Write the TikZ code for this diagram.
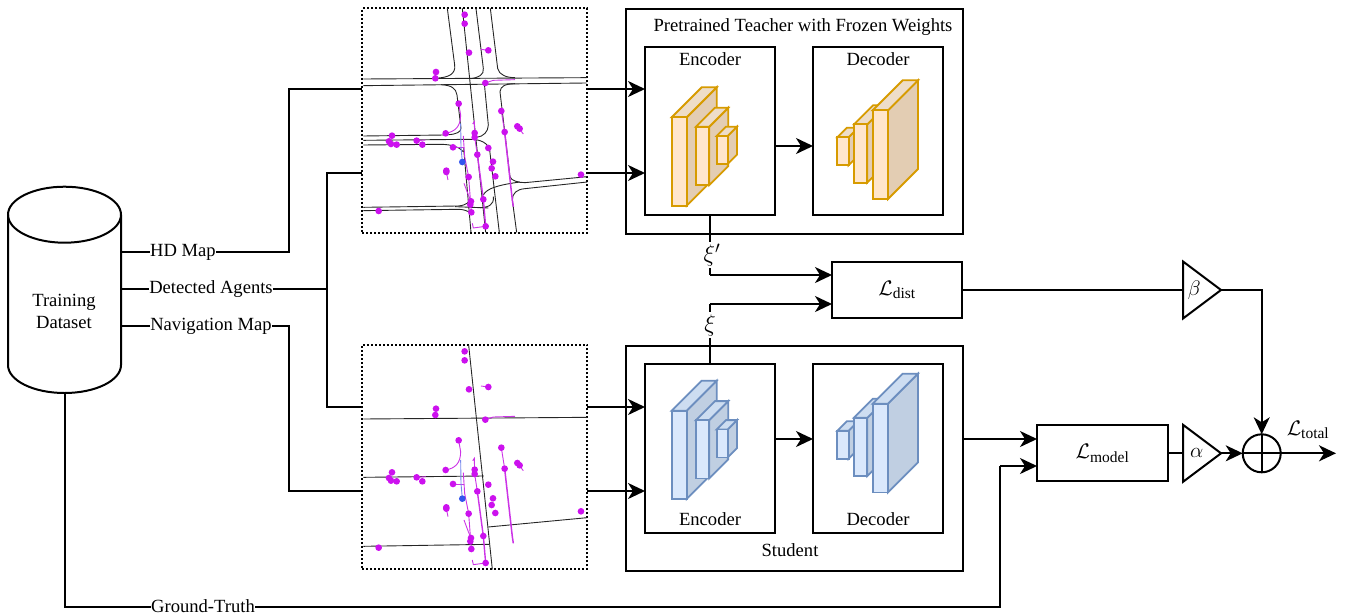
\RequirePackage{fix-cm}
\documentclass[tikz,border=0pt]{standalone}
\usepackage{fontspec}
\setmainfont{Liberation Serif}
\usetikzlibrary{arrows.meta,shapes.geometric,calc}
\DeclareMathSizes{18.6}{18.6}{13.5}{10}
\DeclareMathSizes{21}{21}{15.5}{11}
\DeclareMathSizes{24}{24}{17}{12}
\definecolor{agentc}{HTML}{CC11EE}
\definecolor{trailc}{HTML}{CC33E6}
\definecolor{egoc}{HTML}{3355EE}
\definecolor{egot}{HTML}{7788EE}
\definecolor{ofront}{HTML}{FFE6CC}
\definecolor{otop}{HTML}{EEDDC8}
\definecolor{oside}{HTML}{E3CDB3}
\definecolor{ostroke}{HTML}{D79B00}
\definecolor{bfront}{HTML}{DAE8FC}
\definecolor{btop}{HTML}{CDDDF1}
\definecolor{bside}{HTML}{C0CFE2}
\definecolor{bstroke}{HTML}{6C8EBF}
\tikzset{
  every node/.style={font=\fontsize{18.6}{22}\selectfont,inner sep=0pt,outer sep=0pt},
  wire/.style={line width=2pt,line join=miter},
  arr/.style={wire,-{Stealth[length=17pt,width=16pt,inset=5pt]}},
  boxn/.style={draw,line width=2pt,fill=white},
  lbl/.style={fill=white,inner xsep=0.5pt,inner ysep=1pt},
  mapn/.style={draw,line width=2pt,dash pattern=on 2pt off 2pt,minimum width=225pt,minimum height=224.5pt},
  road/.style={line width=0.9pt,black!85},
  trail/.style={line width=0.9pt,trailc},
  midmath/.style={font=\fontsize{21}{24}\selectfont},
  bigmath/.style={font=\fontsize{24}{26}\selectfont},
  gain/.style={draw,line width=2pt,isosceles triangle,isosceles triangle apex angle=60,isosceles triangle stretches,minimum width=57pt,minimum height=38pt,anchor=lower side,fill=white,midmath},
}
% x y w h d front top side stroke
\newcommand{\cuboid}[9]{%
  \begin{scope}[line width=1.8pt,draw=#9,line join=miter]
  \filldraw[fill=#8] (#1+#3,#2) -- ++(#5,-#5) -- ++(0,#4) -- ++(-#5,#5) -- cycle;
  \filldraw[fill=#7] (#1,#2) -- ++(#5,-#5) -- ++(#3,0) -- ++(-#5,#5) -- cycle;
  \filldraw[fill=#6] (#1,#2) rectangle ++(#3,#4);
  \end{scope}}
\newcommand{\encblock}[5]{%
  \begin{scope}[yshift=-#1pt]
  \cuboid{671.7}{117.3}{15}{88.3}{30}{#2}{#3}{#4}{#5}
  \cuboid{696}{126.7}{13.3}{58.3}{19}{#2}{#3}{#4}{#5}
  \cuboid{716.7}{136}{11}{28}{9.3}{#2}{#3}{#4}{#5}
  \end{scope}}
\newcommand{\decblock}[5]{%
  \begin{scope}[yshift=-#1pt]
  \cuboid{837.3}{137.3}{11.3}{28}{9.5}{#2}{#3}{#4}{#5}
  \cuboid{854}{124.3}{13.3}{58.3}{19}{#2}{#3}{#4}{#5}
  \cuboid{872.7}{110.3}{15.3}{88.7}{30}{#2}{#3}{#4}{#5}
  \end{scope}}
\newcommand{\agents}{%
  \draw[trail] (400,151) -- (378,148);
  \draw[trail] (391,249) -- (415,241) -- (480,239);
  \draw[trail] (311,311) -- (317,345) .. controls (317,380) and (300,395) .. (272,400);
  \draw[trail] (353,372) -- (358,365) -- (359,412) -- (367,464);
  \draw[trail,line width=1.4pt] (367,464) -- (385,598) -- (392,679);
  \draw[trail] (439,333) -- (449,396);
  \draw[trail,line width=1.5pt] (449,396) -- (472,600) -- (475,620);
  \draw[trail] (487,379) -- (505,402);
  \draw[trail] (274,516) -- (279,540);
  \draw[trail] (294,442) -- (327,442);
  \draw[trail] (325,408) -- (329,470) -- (341,531) -- (349,637);
  \draw[trail] (327,550) -- (340,585) -- (348,604);
  \draw[trail] (392,679) -- (355,684) -- (352,670);
  \draw[trail] (185,422) -- (212,420);
  \draw[line width=0.9pt,egot] (317,370) -- (318,440) -- (322,486);
  \foreach \px/\py in {329/44,329/71,342/158,400/151,243/216,241/235,391/249,311/311,439/333,487/379,494/386,449/396,272/400,359/399,359/412,111/407,102/424,108/432,125/434,185/422,202/434,294/442,400/444,367/464,414/485,410/505,274/512,274/516,341/531,421/529,678/524,385/598,348/604,346/614,349/637,71/633,392/679}
    \fill[agentc] (\px,\py) circle (10);
  \fill[egoc] (322,486) circle (10);
}
\begin{document}
\begin{tikzpicture}[x=1pt,y=-1pt]
\useasboundingbox (0,0) rectangle (1351,614);
% horizontal levels
\coordinate (yHD) at (0,252);
\coordinate (yDA) at (0,289);
\coordinate (yNV) at (0,326);
\coordinate (yA) at (0,89);
\coordinate (yB) at (0,173);
\coordinate (yC) at (0,407);
\coordinate (yD) at (0,491);
\coordinate (xHD) at (289,0);
\coordinate (xDA) at (327,0);
\coordinate (yGT) at (0,607);
\coordinate (xGT) at (1000,0);
\coordinate (yXp) at (0,275);
\coordinate (yX) at (0,304);
\coordinate (yS) at (0,439);
\coordinate (yT) at (0,146);
\coordinate (yG) at (0,466);
% dataset cylinder
\node[minimum width=113pt,minimum height=207pt] (db) at (64.5,290) {};
\draw[line width=2pt,fill=white] (8,214.7) arc[start angle=180,end angle=0,x radius=56.5,y radius=-28] -- (121,365) arc[start angle=0,end angle=-180,x radius=56.5,y radius=-28] -- cycle;
\draw[line width=2pt] (8,214.7) arc[start angle=180,end angle=360,x radius=56.5,y radius=-28];
\node[align=center] (dbt) at (64,311) {Training\\Dataset};
% maps
\node[mapn] (m1) at (474.8,120.5) {};
\node[mapn] (m2) at (474.8,457.2) {};
\begin{scope}[shift={(355,0)},x=0.3333pt,y=-0.3333pt]
  \begin{scope}[road]
  \draw (277,25) -- (299,195) .. controls (303,222) and (280,232) .. (250,234);
  \draw (25,237) -- (695,233);
  \draw (25,257) -- (695,249);
  \draw (258,254) .. controls (290,256) and (303,265) .. (306,285) -- (318,385) .. controls (318,395) and (305,403) .. (280,404);
  \draw (25,408) -- (272,405);
  \draw (25,421) -- (345,418) .. controls (380,418) and (398,430) .. (404,450);
  \draw (25,435) -- (260,433) .. controls (290,434) and (312,440) .. (326,456);
  \draw (326,445) -- (348,697);
  \draw (322,25) -- (392,697);
  \draw (363,25) -- (385,205) .. controls (388,225) and (370,233) .. (347,236);
  \draw (388,250) -- (400,375) .. controls (400,395) and (385,410) .. (365,412);
  \draw (404,450) -- (433,697);
  \draw (406,25) -- (428,205) .. controls (432,225) and (455,233) .. (480,233);
  \draw (480,251) .. controls (450,252) and (437,258) .. (435,275) -- (465,530) .. controls (468,542) and (490,548) .. (510,548) -- (697,530);
  \draw (697,546) -- (510,566) .. controls (485,568) and (472,580) .. (472,600) -- (485,697);
  \draw (495,546) .. controls (430,555) and (395,565) .. (385,585);
  \draw (415,590) .. controls (418,615) and (400,622) .. (375,623);
  \draw (25,622) -- (310,618) .. controls (335,616) and (345,605) .. (348,595);
  \draw (25,632) -- (310,628) .. controls (325,628) and (335,632) .. (346,638);
  \draw (300,620) -- (400,624);
  \end{scope}
  \agents
\end{scope}
\begin{scope}[shift={(355,340)},x=0.3333pt,y=-0.3333pt]
  \begin{scope}[road]
  \draw (341,15) -- (412,688);
  \draw (25,237) -- (697,232);
  \draw (25,412) -- (387,408);
  \draw (25,619) -- (403,613);
  \draw (400,561) -- (697,533);
  \end{scope}
\end{scope}
\begin{scope}[shift={(355,336.67)},x=0.3333pt,y=-0.3333pt]
  \agents
\end{scope}
% model boxes
\node[boxn,minimum width=337pt,minimum height=225pt] (tch) at (794.5,121.5) {};
\node[boxn,minimum width=337pt,minimum height=225pt] (std) at (794.5,458.5) {};
\node[boxn,minimum width=130pt,minimum height=168pt] (te) at (710,131) {};
\node[boxn,minimum width=130pt,minimum height=168pt] (td) at (878,131) {};
\node[boxn,minimum width=130pt,minimum height=169pt] (se) at (710,448.5) {};
\node[boxn,minimum width=130pt,minimum height=169pt] (sd) at (878,448.5) {};
\node (ttl) at (803,27.5) {Pretrained Teacher with Frozen Weights};
\node (tet) at (710,59.5) {Encoder};
\node (tdt) at (878,59.5) {Decoder};
\node (set) at (710,519.5) {Encoder};
\node (sdt) at (878,519.5) {Decoder};
\node (stt) at (790,550.5) {Student};
\encblock{0}{ofront}{otop}{oside}{ostroke}
\decblock{0}{ofront}{otop}{oside}{ostroke}
\encblock{293.4}{bfront}{btop}{bside}{bstroke}
\decblock{293.4}{bfront}{btop}{bside}{bstroke}
% loss boxes
\node[boxn,midmath,minimum width=130pt,minimum height=56pt] (ld) at (897,290) {$\mathcal{L}_{\mathrm{dist}}$};
\node[boxn,midmath,minimum width=131pt,minimum height=56pt] (lm) at (1102.5,453.3) {$\mathcal{L}_{\mathrm{model}}$};
\node[gain] (beta) at (1183,290) {$\beta$};
\node[gain] (alpha) at (1183,453.3) {$\alpha$};
\node[draw,circle,line width=2pt,minimum size=38pt] (sum) at (1261.7,453.3) {};
\draw[line width=1.8pt] (sum.north) -- (sum.south) (sum.west) -- (sum.east);
\node[midmath] (ltot) at (1308,430) {$\mathcal{L}_{\mathrm{total}}$};
\coordinate (end) at (1336,453.3);
% connectors
\draw[wire] (db.east |- yHD) -- (xHD |- yHD) -- (xHD |- yA) -- (m1.west |- yA);
\draw[wire] (db.east |- yDA) -- (xDA |- yDA);
\draw[wire] (m1.west |- yB) -- (xDA |- yB) -- (xDA |- yC) -- (m2.west |- yC);
\draw[wire] (db.east |- yNV) -- (xHD |- yNV) -- (xHD |- yD) -- (m2.west |- yD);
\node[lbl] (lHD) at (183,252.5) {HD Map};
\node[lbl] (lDA) at (211,289.5) {Detected Agents};
\node[lbl] (lNV) at (211,326.5) {Navigation Map};
\draw[arr] (m1.east |- yA) -- (te.west |- yA);
\draw[arr] (m1.east |- yB) -- (te.west |- yB);
\draw[arr] (m2.east |- yC) -- (se.west |- yC);
\draw[arr] (m2.east |- yD) -- (se.west |- yD);
\draw[arr] (te.east |- yT) -- (td.west |- yT);
\draw[arr] (se.east |- yS) -- (sd.west |- yS);
\draw[wire] (te.south) -- (te.south |- yXp);
\draw[arr] (te.south |- yXp) -- (ld.west |- yXp);
\draw[wire] (se.north) -- (se.north |- yX);
\draw[arr] (se.north |- yX) -- (ld.west |- yX);
\node[lbl,bigmath,inner ysep=2pt] (xp) at (712,255) {$\xi'$};
\node[lbl,bigmath,inner ysep=2pt] (x) at (710,325) {$\xi$};
\draw[wire] (ld.east) -- (beta.lower side);
\draw[arr] (beta.apex) -- (sum.north |- beta.apex) -- (sum.north);
\draw[arr] (std.east |- yS) -- (lm.west |- yS);
\draw[wire] (lm.east) -- (alpha.lower side);
\draw[arr] (alpha.apex) -- (sum.west);
\draw[arr] (sum.east) -- (end);
\draw[wire] (db.south) -- (db.south |- yGT) -- (xGT |- yGT) -- (xGT |- yG);
\draw[arr] (xGT |- yG) -- (lm.west |- yG);
\node[lbl] (lGT) at (203,606.5) {Ground-Truth};
\end{tikzpicture}
\end{document}
